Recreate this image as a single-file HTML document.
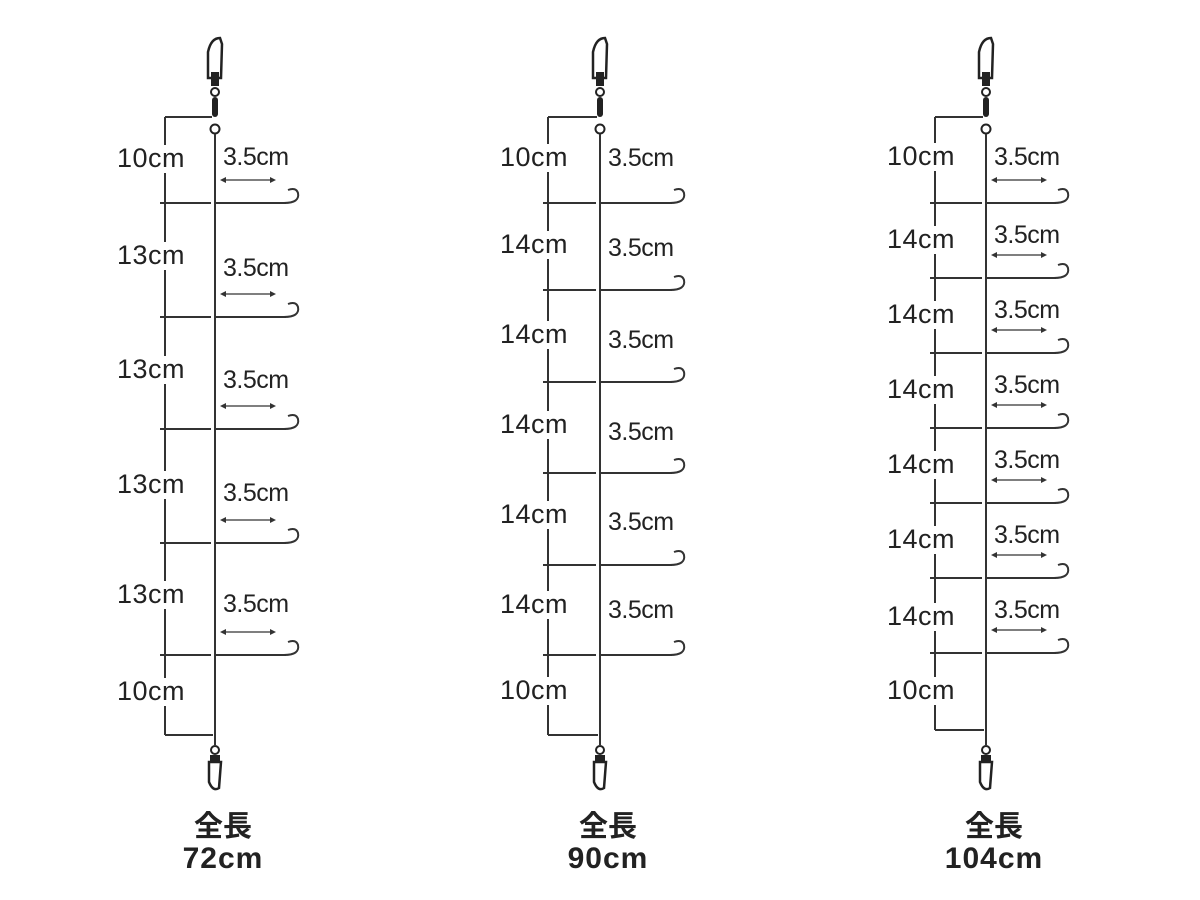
<!DOCTYPE html>
<html><head><meta charset="utf-8"><style>
html,body{margin:0;padding:0;background:#fff;width:1200px;height:900px;overflow:hidden}
svg text{font-family:"Liberation Sans","Noto Sans CJK JP",sans-serif;fill:#222}
</style></head><body>
<svg id="s" width="1200" height="900" xmlns="http://www.w3.org/2000/svg"></svg>
<script>
const s=document.getElementById('s');let h='';
function L(x1,y1,x2,y2,w){h+=`<line x1="${x1}" y1="${y1}" x2="${x2}" y2="${y2}" stroke="#333" stroke-width="${w||2}"/>`;}
function T(x,y,t,sz,a,ls,b){h+=`<text x="${x}" y="${y}" font-size="${sz}" ${a?'text-anchor="middle"':''} ${ls!=null?`letter-spacing="${ls}"`:''} ${b?'font-weight="bold"':''}>${t}</text>`;}
function rig(cx,bx,ticks,bottom,lbls,sLbls,arrows,hookEnd,tot){
 h+=`<path d="M${cx-7},${78} L${cx-7},${52} Q${cx-4},${38} ${cx+5},${38} L${cx+7},${44} L${cx+6},${78} Z" fill="#fff" stroke="#222" stroke-width="2.5"/>`;
 h+=`<rect x="${cx-4}" y="72" width="8" height="14" fill="#222"/>`;
 h+=`<circle cx="${cx}" cy="92" r="4" fill="#fff" stroke="#222" stroke-width="2"/>`;
 h+=`<rect x="${cx-3}" y="97" width="6" height="20" rx="3" fill="#222"/>`;
 h+=`<circle cx="${cx}" cy="129" r="4.5" fill="#fff" stroke="#222" stroke-width="2"/>`;
 L(cx,134,cx,745,2);
 L(bx,117,cx-3,117);L(bx,117,bx,bottom);L(bx,bottom,cx-2,bottom);
 ticks.forEach(y=>{L(bx-5,y,cx-4,y);L(cx,y,hookEnd-12,y);
  h+=`<path d="M${hookEnd-14},${y} Q${hookEnd+2},${y} ${hookEnd},${y-10} Q${hookEnd-2},${y-16} ${hookEnd-10},${y-13}" fill="none" stroke="#333" stroke-width="2"/>`;});
 lbls.forEach(([y,t])=>{h+=`<rect x="${bx-4}" y="${y-22}" width="8" height="28" fill="#fff"/>`;T(bx-48,y,t,27,false,0.5);});
 sLbls.forEach(y=>T(cx+8,y,'3.5cm',25,false,-0.5));
 if(arrows)ticks.forEach(y=>{const ay=y-23;L(cx+8,ay,cx+58,ay,1.2);
  h+=`<path d="M${cx+5},${ay} l6,-3 v6 z M${cx+61},${ay} l-6,-3 v6 z" fill="#333"/>`;});
 h+=`<circle cx="${cx}" cy="750" r="4" fill="#fff" stroke="#222" stroke-width="2"/>`;
 h+=`<rect x="${cx-5}" y="755" width="10" height="14" fill="#222"/>`;
 h+=`<path d="M${cx-6},${762} L${cx-6},${782} Q${cx-2},${792} ${cx+4},${788} L${cx+6},${762} Z" fill="#fff" stroke="#222" stroke-width="2.5"/>`;
 T(cx+8,836,'全長',29,true,null,true);T(cx+8,868,tot,30,true,1,true);
}
rig(215,165,[203,317,429,543,655],735,[[167,'10cm'],[264,'13cm'],[378,'13cm'],[493,'13cm'],[603,'13cm'],[700,'10cm']],[165,276,388,501,612],true,298,'72cm');
rig(600,548,[203,290,382,473,565,655],735,[[166,'10cm'],[253,'14cm'],[343,'14cm'],[433,'14cm'],[523,'14cm'],[613,'14cm'],[699,'10cm']],[166,256,348,440,530,618],false,684,'90cm');
rig(986,935,[203,278,353,428,503,578,653],730,[[165,'10cm'],[248,'14cm'],[323,'14cm'],[398,'14cm'],[473,'14cm'],[548,'14cm'],[625,'14cm'],[699,'10cm']],[165,243,318,393,468,543,618],true,1068,'104cm');
s.innerHTML=h;
</script>
</body></html>
